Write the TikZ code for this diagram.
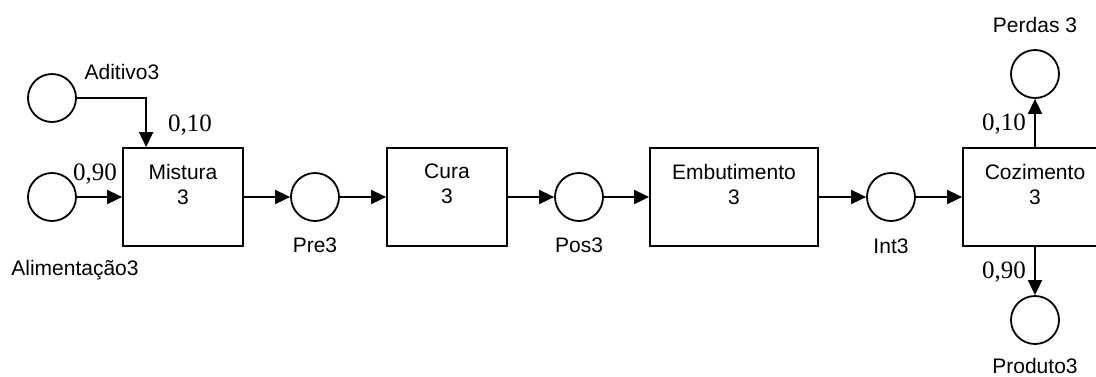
\documentclass[tikz,border=0pt]{standalone}
\usepackage{fontspec}
\setmainfont{Liberation Sans}
\newfontfamily\numfont{Liberation Serif}
\usetikzlibrary{arrows.meta}

\begin{document}
\begin{tikzpicture}[x=1pt,y=-1pt,
  place/.style={circle,draw,line width=1.8pt,minimum size=48pt,inner sep=0pt},
  trans/.style={rectangle,draw,line width=1.8pt,minimum height=98pt,inner sep=0pt},
  lab/.style={font=\fontsize{21}{25}\selectfont,inner sep=0pt},
  boxlab/.style={lab,align=center,anchor=north},
  wt/.style={font=\numfont\fontsize{25}{28}\selectfont,inner sep=0pt},
  arr/.style={line width=1.8pt,-{Triangle[length=15pt,width=14pt]}}]
\useasboundingbox (0,0) rectangle (1096,376);

% places and transitions
\node[place] (adit) at (52,98) {};
\node[place] (alim) at (52,197) {};
\node[trans,minimum width=120pt] (mist) at (183,197) {};
\node[place] (pre) at (315,197) {};
\node[trans,minimum width=120pt] (cura) at (447,197) {};
\node[place] (pos) at (579,197) {};
\node[trans,minimum width=168pt] (emb) at (734,197) {};
\node[place] (int) at (891,197) {};
\node[trans,minimum width=144pt] (coz) at (1035,197) {};
\node[place] (perd) at (1035,74) {};
\node[place] (prod) at (1035,320) {};

% transition names
\node[boxlab] (mistT) at ([yshift=-17pt]mist.north) {Mistura\\3};
\node[boxlab] (curaT) at ([yshift=-17pt]cura.north) {Cura\\3};
\node[boxlab] (embT) at ([yshift=-17pt]emb.north) {Embutimento\\3};
\node[boxlab] (cozT) at ([yshift=-17pt]coz.north) {Cozimento\\3};

% place names
\node[lab] (aditL) at (122,72) {Aditivo3};
\node[lab] (alimL) at (75,270) {Alimentação3};
\node[lab] (preL) at (315,245) {Pre3};
\node[lab] (posL) at (579,245) {Pos3};
\node[lab] (intL) at (891,246) {Int3};
\node[lab] (perdL) at (1035,25) {Perdas 3};
\node[lab] (prodL) at (1035,366) {Produto3};

% arc weights
\node[wt] (w1) at (190,125) {0,10};
\node[wt] (w2) at (95,174) {0,90};
\node[wt] (w3) at (1004,124) {0,10};
\node[wt] (w4) at (1004,272) {0,90};

% arcs
\draw[arr] (adit.east) -| ([xshift=24pt]mist.north west);
\draw[arr] (alim.east) -- (mist.west);
\draw[arr] (mist.east) -- (pre.west);
\draw[arr] (pre.east) -- (cura.west);
\draw[arr] (cura.east) -- (pos.west);
\draw[arr] (pos.east) -- (emb.west);
\draw[arr] (emb.east) -- (int.west);
\draw[arr] (int.east) -- (coz.west);
\draw[arr] (coz.north) -- (perd.south);
\draw[arr] (coz.south) -- (prod.north);
\end{tikzpicture}
\end{document}
